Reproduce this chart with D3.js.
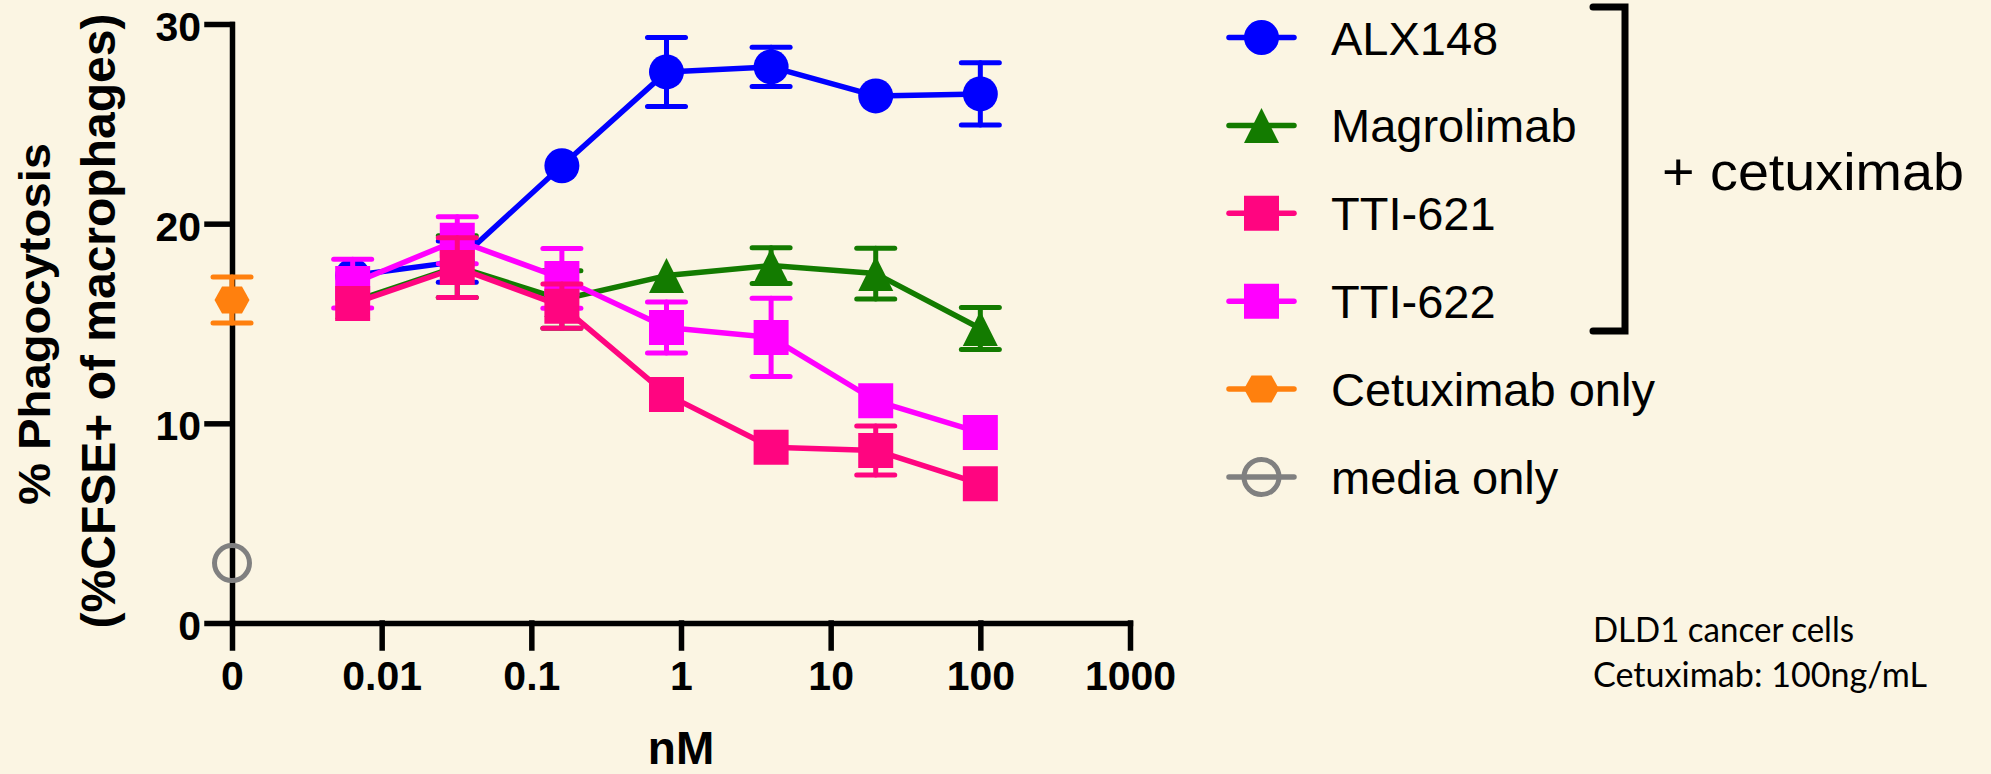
<!DOCTYPE html>
<head>
  <meta charset="utf-8">
  <script src="https://d3js.org/d3.v7.min.js"></script>
  <style>
    body { margin:0; background:#fbf5e3; }
    svg { display:block; }
    text { font-family: "Liberation Sans", Arial, sans-serif; fill:#000; }
  </style>
</head>

<body>
  <script>
    // concentrations (nM) used for the four dose-response series
    var concentrations = [0.0064, 0.032, 0.16, 0.8, 4, 20, 100];

    var alx148        = [17.4, 18.1, 22.9, 27.6, 27.85, 26.4, 26.5];
    var alx148Err     = [0.5, 1.03, 0.4, 1.73, 0.98, 0.4, 1.56];
    var magrolimab    = [16.1, 17.85, 16.2, 17.4, 17.9, 17.5, 14.75];
    var magrolimabErr = [0.5, 1.55, 1.44, 0.5, 0.9, 1.27, 1.05];
    var tti621        = [16.0, 17.8, 15.87, 11.45, 8.8, 8.64, 6.97];
    var tti621Err     = [0.4, 1.5, 1.11, 0.4, 0.4, 1.23, 0.4];
    var tti622        = [17.0, 19.17, 17.26, 14.8, 14.3, 11.13, 9.54];
    var tti622Err     = [1.22, 1.18, 1.5, 1.28, 1.96, 0.5, 0.4];

    // controls plotted at concentration 0
    var controlNames  = ["Cetuximab only", "media only"];
    var controlValues = [16.18, 3.0];
    var controlErr    = [1.15, 0];

    var xTickValues = [0, 0.01, 0.1, 1, 10, 100, 1000];
    var xTickLabels = ["0", "0.01", "0.1", "1", "10", "100", "1000"];
    var yTickValues = [0, 10, 20, 30];

    var zeroPosition = 0.001; // where "0" sits on the log axis

    var svg = d3.select("body").append("svg")
        .attr("width", 1991)
        .attr("height", 774);

    svg.append("rect").attr("width", 1991).attr("height", 774).attr("fill", "#fbf5e3");

    var x = d3.scaleLog().domain([zeroPosition, 1000]).range([232, 1130]);
    var y = d3.scaleLinear().domain([0, 30]).range([623, 24]);
    var xAt = function(c) { return x(c === 0 ? zeroPosition : c); };

    // axes
    var yAxis = svg.append("g")
        .attr("transform", "translate(" + x(zeroPosition) + ",0)")
        .call(d3.axisLeft(y).tickValues(yTickValues).tickSize(25).tickSizeOuter(0).tickPadding(6));
    yAxis.selectAll("text").attr("dy", "0.4em");

    var xAxis = svg.append("g")
        .attr("transform", "translate(0," + y(0) + ")")
        .call(d3.axisBottom(x)
          .tickValues(xTickValues.map(function(v){ return v === 0 ? zeroPosition : v; }))
          .tickFormat(function(d, i){ return xTickLabels[i]; })
          .tickSize(25).tickSizeOuter(0).tickPadding(13));

    svg.selectAll(".domain, .tick line")
        .attr("stroke", "#000")
        .attr("stroke-width", 5.5)
        .attr("stroke-linecap", "square");
    svg.selectAll(".tick text")
        .style("font-size", "41px")
        .style("font-weight", "bold")
        .attr("fill", "#000");

    // axis titles
    var yTitle = svg.append("g").attr("transform", "translate(0,324) rotate(-90)");
    yTitle.append("text")
        .attr("x", 0).attr("y", 50)
        .attr("text-anchor", "middle")
        .attr("textLength", 362).attr("lengthAdjust", "spacingAndGlyphs")
        .style("font-size", "44px").style("font-weight", "bold")
        .text("% Phagocytosis");
    yTitle.append("text")
        .attr("x", 3).attr("y", 115)
        .attr("text-anchor", "middle")
        .style("font-size", "48px").style("font-weight", "bold")
        .text("(%CFSE+ of macrophages)");

    svg.append("text")
        .attr("x", x(1)).attr("y", 764)
        .attr("text-anchor", "middle")
        .style("font-size", "46px").style("font-weight", "bold")
        .text("nM");

    // symbols
    function shapePath(shape) {
      if (shape === "circle") return d3.symbol(d3.symbolCircle, Math.PI * 17.5 * 17.5)();
      if (shape === "square") return d3.symbol(d3.symbolSquare, 35 * 35)();
      if (shape === "triangle") return "M0,-17.5L17.5,17.5L-17.5,17.5Z";
      if (shape === "hexagon") return "M-17.5,0L-10,-13.5L10,-13.5L17.5,0L10,13.5L-10,13.5Z";
    }

    function drawErrorBar(g, cx, v, e, color) {
      var half = y(v - e) - y(v);
      if (half < 17) return; // hidden inside the symbol
      var bar = g.append("g")
          .attr("stroke", color).attr("stroke-width", 5).attr("stroke-linecap", "round");
      bar.append("line").attr("x1", cx).attr("x2", cx).attr("y1", y(v - e)).attr("y2", y(v + e));
      [v - e, v + e].forEach(function(end) {
        bar.append("line").attr("x1", cx - 19).attr("x2", cx + 19).attr("y1", y(end)).attr("y2", y(end));
      });
    }

    var series = [
      { name: "ALX148", values: alx148, errors: alx148Err, color: "#0000ff", shape: "circle" },
      { name: "Magrolimab", values: magrolimab, errors: magrolimabErr, color: "#137b00", shape: "triangle" },
      { name: "TTI-621", values: tti621, errors: tti621Err, color: "#ff0580", shape: "square" },
      { name: "TTI-622", values: tti622, errors: tti622Err, color: "#ff00ff", shape: "square" }
    ];
    var drawOrder = [0, 1, 3, 2];

    var line = d3.line()
        .x(function(d){ return xAt(d[0]); })
        .y(function(d){ return y(d[1]); });

    drawOrder.forEach(function(k) {
      var s = series[k];
      var pts = concentrations.map(function(c, i){ return [c, s.values[i], s.errors[i]]; });
      var g = svg.append("g");
      g.append("path")
          .attr("d", line(pts))
          .attr("fill", "none")
          .attr("stroke", s.color)
          .attr("stroke-width", 5.5)
          .attr("stroke-linejoin", "round");
      pts.forEach(function(p){ drawErrorBar(g, xAt(p[0]), p[1], p[2], s.color); });
      g.selectAll("path.pt").data(pts).enter().append("path")
          .attr("class", "pt")
          .attr("d", shapePath(s.shape))
          .attr("transform", function(d){ return "translate(" + xAt(d[0]) + "," + y(d[1]) + ")"; })
          .attr("fill", s.color);
    });

    // controls at 0
    var controls = [
      { name: controlNames[0], value: controlValues[0], err: controlErr[0], color: "#ff800e", shape: "hexagon", open: false },
      { name: controlNames[1], value: controlValues[1], err: controlErr[1], color: "#808080", shape: "circle", open: true }
    ];
    controls.forEach(function(c) {
      var g = svg.append("g");
      if (c.err) drawErrorBar(g, xAt(0), c.value, c.err, c.color);
      var m = g.append("path")
          .attr("transform", "translate(" + xAt(0) + "," + y(c.value) + ")");
      if (c.open) {
        m.attr("d", d3.symbol(d3.symbolCircle, Math.PI * 17.5 * 17.5)())
         .attr("fill", "none").attr("stroke", c.color).attr("stroke-width", 5);
      } else {
        m.attr("d", shapePath(c.shape)).attr("fill", c.color);
      }
    });

    // legend
    var legendItems = series.concat(controls);
    var legend = svg.append("g");
    legendItems.forEach(function(d, i) {
      var ry = 37.5 + i * 87.9;
      var row = legend.append("g").attr("transform", "translate(0," + ry + ")");
      row.append("line")
          .attr("x1", 1229).attr("x2", 1294).attr("y1", 0).attr("y2", 0)
          .attr("stroke", d.color).attr("stroke-width", 5.5).attr("stroke-linecap", "round");
      var m = row.append("path").attr("transform", "translate(1261.5,0)");
      if (d.open) {
        m.attr("d", shapePath("circle")).attr("fill", "none").attr("stroke", d.color).attr("stroke-width", 5);
      } else {
        m.attr("d", shapePath(d.shape)).attr("fill", d.color);
      }
      row.append("text")
          .attr("x", 1331).attr("y", 17)
          .style("font-size", "47px")
          .text(d.name);
    });

    // bracket grouping the combination treatments
    svg.append("path")
        .attr("d", "M1593,7H1625V331H1593")
        .attr("fill", "none")
        .attr("stroke", "#000")
        .attr("stroke-width", 7)
        .attr("stroke-linecap", "round");
    svg.append("text")
        .attr("x", 1662).attr("y", 190)
        .attr("textLength", 302).attr("lengthAdjust", "spacingAndGlyphs")
        .style("font-size", "51px")
        .text("+ cetuximab");

    // experiment note
    var note = ["DLD1 cancer cells", "Cetuximab: 100ng/mL"];
    var noteLen = [261, 334];
    note.forEach(function(t, i) {
      svg.append("text")
          .attr("x", 1593).attr("y", 642 + i * 45)
          .attr("textLength", noteLen[i]).attr("lengthAdjust", "spacingAndGlyphs")
          .style("font-family", "Lato, 'Open Sans', sans-serif")
          .style("font-size", "34px")
          .text(t);
    });
  </script>
</body>

</html>
